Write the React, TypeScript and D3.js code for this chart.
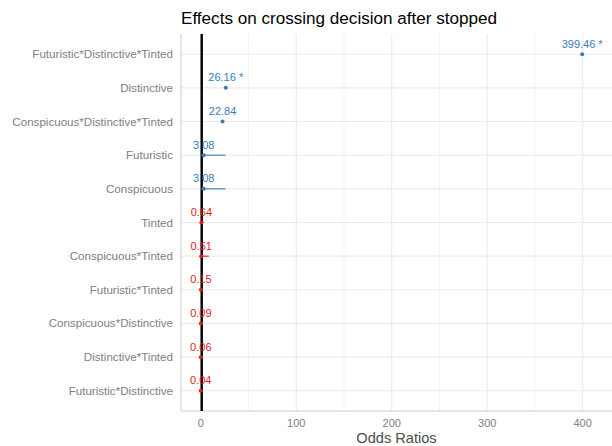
import React from "react";
import * as d3 from "d3";

// Model terms, top to bottom
const terms = [
  "Futuristic*Distinctive*Tinted",
  "Distinctive",
  "Conspicuous*Distinctive*Tinted",
  "Futuristic",
  "Conspicuous",
  "Tinted",
  "Conspicuous*Tinted",
  "Futuristic*Tinted",
  "Conspicuous*Distinctive",
  "Distinctive*Tinted",
  "Futuristic*Distinctive",
];
const oddsRatios = [399.46, 26.16, 22.84, 3.08, 3.08, 0.64, 0.51, 0.15, 0.09, 0.06, 0.04];
const significance = ["*", "*", "", "", "", "", "", "", "", "", ""];
const ciLow = [NaN, NaN, NaN, 0.37, 0.37, 0.12, 0.03, 0.01, 0.01, 0.0, 0.0];
const ciHigh = [NaN, NaN, NaN, 25.8, 25.8, 3.4, 8.4, 1.6, 0.9, 0.6, 0.5];
const xTicks = [0, 100, 200, 300, 400];
const xMinor = [50, 150, 250, 350];

const W = 612;
const H = 446;
const M = { left: 181, right: 612, top: 34, bottom: 411 };
const BLUE = "#377EB8";
const RED = "#E41A1C";
const FONT = "Liberation Sans, Arial, sans-serif";

export default function App() {
  const x = d3.scaleLinear().domain([-20.7, 430.7]).range([M.left, M.right]);
  const y = d3
    .scalePoint<string>()
    .domain(terms)
    .range([M.top, M.bottom])
    .padding(0.6);

  return (
    <svg
      width={W}
      height={H}
      style={{ position: "absolute", left: 0, top: 0, background: "#fff" }}
      fontFamily={FONT}
    >
      {/* grid */}
      {xMinor.map((t) => (
        <line key={"mn" + t} x1={x(t)} x2={x(t)} y1={M.top} y2={M.bottom} stroke="#f0f0f0" strokeWidth={0.8} />
      ))}
      {xTicks.map((t) => (
        <line key={"mj" + t} x1={x(t)} x2={x(t)} y1={M.top} y2={M.bottom} stroke="#ebebeb" strokeWidth={1.1} />
      ))}
      {terms.map((t) => (
        <line key={"hg" + t} x1={M.left} x2={M.right} y1={y(t)} y2={y(t)} stroke="#ebebeb" strokeWidth={1.1} />
      ))}
      {/* axis lines */}
      <line x1={M.left} x2={M.left} y1={M.top} y2={M.bottom} stroke="#cccccc" strokeWidth={1} />
      <line x1={M.left} x2={M.right} y1={M.bottom} y2={M.bottom} stroke="#cccccc" strokeWidth={1} />

      {/* reference line at odds ratio 1 */}
      <line x1={x(1)} x2={x(1)} y1={M.top} y2={M.bottom} stroke="#000" strokeWidth={2.4} />

      {/* estimates */}
      {terms.map((t, i) => {
        const v = oddsRatios[i];
        const col = v >= 1 ? BLUE : RED;
        const cy = y(t) as number;
        return (
          <g key={"pt" + t}>
            {!isNaN(ciLow[i]) && (
              <line x1={x(ciLow[i])} x2={x(ciHigh[i])} y1={cy} y2={cy} stroke={col} strokeWidth={1.1} />
            )}
            <circle cx={x(v)} cy={cy} r={2} fill={col} />
            <text x={x(v)} y={cy - 6.5} textAnchor="middle" fontSize={11} fill={col}>
              {v.toFixed(2) + (significance[i] ? " " + significance[i] : "")}
            </text>
          </g>
        );
      })}

      {/* y labels */}
      {terms.map((t) => (
        <text key={"yl" + t} x={173} y={(y(t) as number) + 4} textAnchor="end" fontSize={11.6} fill="#808080">
          {t}
        </text>
      ))}

      {/* x tick labels */}
      {xTicks.map((t) => (
        <text key={"xl" + t} x={x(t)} y={427} textAnchor="middle" fontSize={11} fill="#808080">
          {t}
        </text>
      ))}
      <text x={(M.left + M.right) / 2} y={442.5} textAnchor="middle" fontSize={14.6} fill="#4d4d4d">
        Odds Ratios
      </text>

      <text x={181} y={23.5} fontSize={17.1} fill="#000">
        Effects on crossing decision after stopped
      </text>
    </svg>
  );
}
